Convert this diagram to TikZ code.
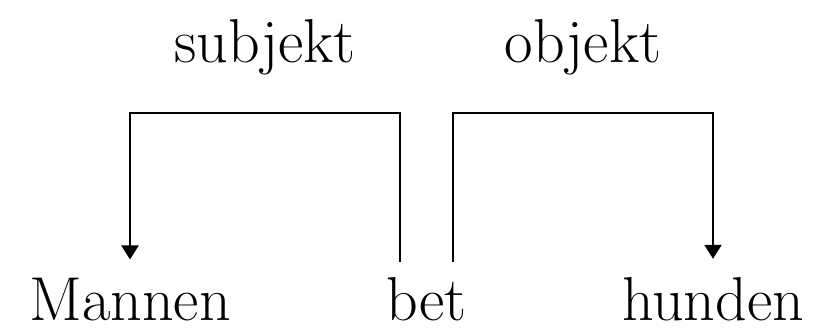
\documentclass[tikz,border=0pt]{standalone}
\usetikzlibrary{arrows.meta}
\begin{document}
\begin{tikzpicture}[x=1pt, y=1pt,
    every node/.style={font=\fontsize{62}{70}\selectfont, inner sep=0pt, anchor=base},
    link/.style={line width=2.5pt, shorten <=15pt, shorten >=18pt,
      -{Triangle[length=14pt, width=17pt]}}]
  \useasboundingbox (0,0) rectangle (823,330);

  \node (mannen) at (130,10) {Mannen};
  \node (bet) at (426.5,10) {bet};
  \node (hunden) at (713,10) {hunden};

  \draw [link] ([xshift=-26.5pt]bet.north) -- ++(0,164)
    -| node [pos=0.25, yshift=50pt] {subjekt} (mannen.north);
  \draw [link] ([xshift=26.5pt]bet.north) -- ++(0,164)
    -| node [pos=0.25, yshift=50pt] {objekt} (hunden.north);
\end{tikzpicture}
\end{document}
